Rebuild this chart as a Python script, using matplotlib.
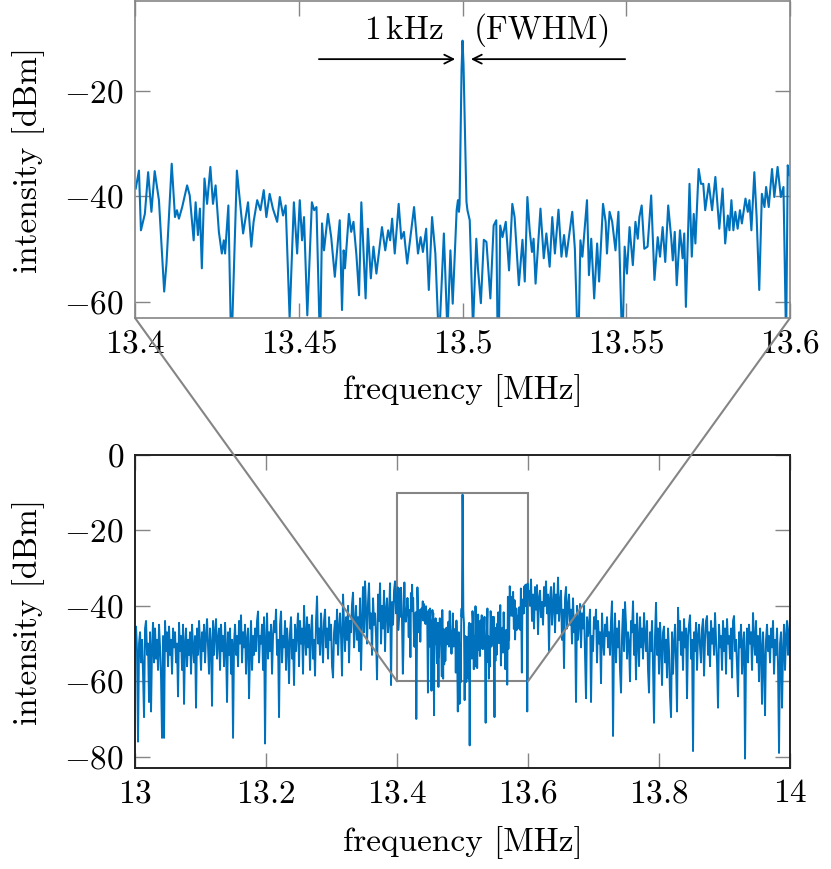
import numpy as np
import matplotlib
matplotlib.use('Agg')
import matplotlib.pyplot as plt
from matplotlib.patches import Rectangle, ConnectionPatch
from matplotlib.ticker import FuncFormatter

plt.rcParams['font.family'] = 'serif'
plt.rcParams['font.serif'] = ['cmr10']
plt.rcParams['mathtext.fontset'] = 'cm'
plt.rcParams['axes.formatter.use_mathtext'] = True

# DANE - widmo w okolicy 13.5 MHz
zoom_freq = [
    13.4002, 13.4012, 13.4018, 13.4030, 13.4040, 13.4050, 13.4060, 13.4073, 13.4089, 13.4096,
    13.4112, 13.4122, 13.4128, 13.4134, 13.4144, 13.4159, 13.4167, 13.4179, 13.4185, 13.4192,
    13.4198, 13.4204, 13.4212, 13.4220, 13.4230, 13.4238, 13.4246, 13.4256, 13.4265, 13.4271,
    13.4275, 13.4285, 13.4294, 13.4311, 13.4330, 13.4345, 13.4355, 13.4362, 13.4373, 13.4383,
    13.4393, 13.4401, 13.4411, 13.4421, 13.4434, 13.4442, 13.4452, 13.4460, 13.4472, 13.4485,
    13.4495, 13.4503, 13.4510, 13.4516, 13.4526, 13.4540, 13.4547, 13.4554, 13.4565, 13.4571,
    13.4577, 13.4589, 13.4599, 13.4610, 13.4625, 13.4632, 13.4637, 13.4641, 13.4653, 13.4660,
    13.4667, 13.4676, 13.4684, 13.4691, 13.4704, 13.4711, 13.4720, 13.4728, 13.4737, 13.4754,
    13.4764, 13.4773, 13.4779, 13.4785, 13.4793, 13.4805, 13.4813, 13.4821, 13.4831, 13.4852,
    13.4864, 13.4872, 13.4879, 13.4889, 13.4897, 13.4907, 13.4917, 13.4928, 13.4943, 13.4954,
    13.4963, 13.4970, 13.4982, 13.4986, 13.4989, 13.4991, 13.4994, 13.4997, 13.5000, 13.5003,
    13.5006, 13.5009, 13.5012, 13.5015, 13.5022, 13.5032, 13.5042, 13.5047, 13.5056, 13.5065,
    13.5073, 13.5085, 13.5095, 13.5103, 13.5109, 13.5115, 13.5122, 13.5132, 13.5142, 13.5152,
    13.5159, 13.5172, 13.5183, 13.5190, 13.5198, 13.5205, 13.5212, 13.5217, 13.5223, 13.5238,
    13.5248, 13.5256, 13.5266, 13.5274, 13.5282, 13.5293, 13.5302, 13.5310, 13.5317, 13.5335,
    13.5343, 13.5353, 13.5360, 13.5366, 13.5380, 13.5386, 13.5393, 13.5402, 13.5411, 13.5417,
    13.5429, 13.5437, 13.5441, 13.5449, 13.5457, 13.5467, 13.5476, 13.5488, 13.5495, 13.5502,
    13.5510, 13.5520, 13.5528, 13.5535, 13.5540, 13.5547, 13.5555, 13.5565, 13.5576, 13.5586,
    13.5596, 13.5603, 13.5611, 13.5619, 13.5628, 13.5637, 13.5642, 13.5648, 13.5654, 13.5664,
    13.5672, 13.5677, 13.5682, 13.5693, 13.5700, 13.5706, 13.5711, 13.5721, 13.5728, 13.5735,
    13.5741, 13.5752, 13.5762, 13.5772, 13.5784, 13.5794, 13.5802, 13.5810, 13.5815, 13.5821,
    13.5827, 13.5833, 13.5840, 13.5847, 13.5853, 13.5864, 13.5871, 13.5876, 13.5882, 13.5891,
    13.5898, 13.5906, 13.5914, 13.5922, 13.5927, 13.5935, 13.5945, 13.5952, 13.5962, 13.5972,
    13.5980, 13.5988, 13.5993, 13.5998, 13.6003,
]
zoom_level = [
    -38.5, -35.1, -46.4, -43.3, -35.4, -42.9, -35.2, -40.7, -58.0, -52.7,
    -33.8, -43.9, -42.6, -44.2, -42.0, -37.9, -39.8, -48.3, -41.1, -47.3,
    -42.3, -53.6, -36.6, -41.4, -34.4, -41.4, -37.9, -46.7, -50.8, -48.3,
    -50.8, -41.7, -70.0, -35.1, -47.0, -41.1, -49.5, -44.8, -40.7, -42.6,
    -38.8, -43.9, -39.5, -42.3, -44.8, -40.1, -43.6, -41.7, -63.0, -41.1,
    -50.8, -40.7, -48.3, -43.9, -62.5, -41.1, -42.6, -42.0, -69.0, -45.1,
    -50.2, -43.3, -47.7, -55.2, -44.5, -61.5, -50.2, -53.6, -43.3, -46.7,
    -44.8, -51.1, -58.7, -41.1, -59.3, -46.1, -55.5, -49.5, -54.6, -45.8,
    -50.2, -46.4, -48.3, -44.2, -50.8, -41.4, -48.0, -46.7, -52.7, -42.0,
    -50.8, -47.7, -50.5, -46.1, -57.7, -43.9, -50.8, -68.0, -47.0, -66.0,
    -50.2, -60.3, -42.6, -40.7, -42.9, -41.5, -29.0, -16.0, -10.5, -15.0,
    -24.0, -34.0, -41.0, -42.6, -44.5, -65.0, -48.0, -53.6, -60.2, -48.2,
    -48.6, -59.3, -45.5, -44.5, -77.0, -45.5, -47.7, -44.8, -54.0, -41.4,
    -43.9, -56.8, -48.2, -56.1, -40.1, -46.4, -50.5, -48.0, -56.5, -42.3,
    -51.7, -47.0, -53.3, -43.9, -50.8, -42.5, -51.4, -47.3, -51.4, -42.9,
    -49.9, -71.0, -48.3, -51.4, -40.7, -54.9, -48.0, -59.3, -48.9, -56.1,
    -41.4, -44.8, -50.8, -42.9, -44.8, -50.2, -42.9, -69.5, -49.5, -54.6,
    -45.8, -53.0, -44.8, -48.0, -43.9, -41.7, -49.9, -49.5, -39.8, -55.8,
    -47.7, -51.4, -45.8, -52.4, -41.7, -47.7, -52.1, -46.7, -56.8, -46.4,
    -51.7, -47.0, -60.9, -37.6, -51.4, -43.3, -48.9, -34.8, -37.6, -37.6,
    -42.6, -37.6, -42.6, -36.3, -46.1, -38.5, -48.9, -43.6, -46.4, -40.7,
    -46.4, -42.9, -46.1, -42.6, -45.1, -40.4, -42.9, -40.7, -46.4, -35.4,
    -43.9, -57.7, -39.5, -42.0, -38.2, -42.0, -34.8, -40.1, -34.4, -40.1,
    -38.2, -68.0, -34.1, -36.0, -36.0,
]

# 13.0 - 13.4 MHz
left_level = [
    -48, -45.5, -52, -76, -50, -47, -55, -49, -58, -69.5, -46, -44, -53, -50, -65.5, -47, -68, -51, -44.5, -55,
    -46, -54, -49, -57, -45, -51, -59, -75, -48, -75, -44, -52, -47, -56, -45.5, -53, -49, -58, -46, -51,
    -47, -55, -50, -64, -44.5, -52, -48, -57, -45, -66, -50, -46, -56, -49, -53, -47, -58, -45, -51, -55,
    -48, -67, -46, -53, -44, -50, -57, -47, -52, -45, -55, -48, -43.5, -51, -58, -46, -50, -66.5, -44, -53,
    -47, -43.5, -54, -49, -46, -57, -45, -52, -48, -56, -44.5, -51, -65.5, -47, -53, -46, -58, -49, -75, -50,
    -45, -53, -48, -56, -44, -50, -42.5, -55, -47, -51, -45, -58, -49, -46, -64.5, -52, -44, -57, -48, -53,
    -46, -52, -44, -41.5, -55, -48, -50, -45, -57, -43, -76.5, -49, -42, -54, -47, -52, -45, -58, -48, -44,
    -47, -41, -53, -49, -69.5, -45, -41.5, -55, -48, -51, -44, -57, -46, -50, -60.5, -47, -43, -54, -49, -61,
    -45, -52, -47, -42, -56, -44, -50, -46, -58, -40, -48, -53, -43, -51, -45, -57, -47, -42.5, -54, -49,
    -58.5, -44, -37.5, -50, -46, -53, -42, -48, -55, -44, -41, -51, -46, -54, -43, -49, -45, -56, -59, -47,
    -44, -50, -41, -53, -46, -42, -48, -58.5, -37, -45, -52, -43, -49, -40, -55, -44, -47, -39.5, -36.5, -51,
    -45, -40, -49, -43, -52, -38, -57, -44, -35, -47, -33.5, -41, -50, -39, -34, -46, -42, -53, -38, -45,
    -42, -48, -59.5, -37, -44, -34, -50, -40, -46, -36, -52, -41, -38, -47, -43, -34, -61, -39, -45, -36, -33.5, -42,
]

# 13.6 - 14.0 MHz
right_level = [
    -36, -40, -33, -44, -37, -46, -35, -41, -34.5, -47.5, -38, -36, -43, -39, -45, -35, -40, -33.5, -42, -37,
    -52, -38, -35, -45, -40, -34, -47, -37, -42, -32.5, -44, -39, -36, -49, -41, -56.5, -38, -35, -46, -40,
    -37, -45, -41, -50, -38, -47, -43, -65.5, -40, -49, -44, -39.5, -51, -42, -46, -40, -53, -64.5, -43, -48,
    -45, -41, -65.5, -48, -52, -43, -46, -41, -55, -44, -50, -47, -60.5, -42, -49, -53, -45, -48, -43, -51,
    -47, -53, -44, -38.8, -74.5, -49, -42, -55, -46, -51, -44, -57, -63, -48, -41, -52, -39, -45, -54, -47,
    -50, -60, -44, -47, -38.8, -53, -45, -59.5, -42, -49, -56, -43, -51, -46, -54, -41.9, -48, -52, -44, -57,
    -63, -47, -52, -44, -56, -71, -48, -39.2, -53, -46, -58, -44.5, -50, -61, -47, -45.5, -55, -49, -59, -46,
    -52, -64, -69.5, -47, -58, -50, -45, -55, -68, -40.5, -49, -44, -53, -47, -57, -43.5, -51, -46, -64.5, -48,
    -45, -42.5, -54, -49, -78.5, -47, -52, -44.5, -57, -48, -45, -51, -55, -46, -43.5, -58.5, -49, -44, -42.7, -53,
    -47, -56, -44, -50, -46, -53, -41.9, -49, -55, -67, -45, -51, -48, -57, -44, -52, -46, -58, -43.5, -50,
    -48, -54, -46, -59, -44, -42.7, -52, -49, -56, -64, -47, -51, -45, -58, -50, -47, -80.5, -53, -46, -55,
    -45, -50, -47, -57, -41.9, -49, -53, -44, -55, -48, -60, -46, -51, -66, -47, -54, -69, -49, -45, -52,
    -48, -55, -46, -51, -44, -58, -49, -53, -46, -56, -79, -50, -47, -67, -52, -45, -57, -48, -44, -53, -47, -43.6,
]

left_freq = np.linspace(13.0, 13.4, len(left_level), endpoint=False)
right_freq = np.linspace(13.6015, 14.0, len(right_level))

full_freq = np.concatenate([left_freq, zoom_freq, right_freq])
full_level = np.concatenate([left_level, zoom_level, right_level])

blue = '#0072bd'
grey = '#858585'
fs = 24
fmt = FuncFormatter(lambda v, p: f'${v:g}$')

fig = plt.figure(figsize=(8.31, 8.69), dpi=100)
ax_top = fig.add_axes([0.1625, 0.6341, 0.7882, 0.3647])
ax_bot = fig.add_axes([0.1625, 0.1162, 0.7882, 0.3602])

# 1. Zbliżenie
ax_top.plot(zoom_freq, zoom_level, color=blue, linewidth=1.5, solid_joinstyle='round')
ax_top.set_xlim(13.4, 13.6)
ax_top.set_ylim(-63, -3)
ax_top.set_xticks([13.4, 13.45, 13.5, 13.55, 13.6])
ax_top.set_yticks([-20, -40, -60])
for s in ax_top.spines.values():
    s.set_color(grey)
    s.set_linewidth(1.2)

arrow = dict(arrowstyle='->', color='black', lw=1.3, mutation_scale=16)
ax_top.annotate('', xy=(13.4986, -14), xytext=(13.4553, -14), arrowprops=arrow)
ax_top.annotate('', xy=(13.5017, -14), xytext=(13.5505, -14), arrowprops=arrow)
ax_top.text(13.4942, -8.5, r'1$\,$kHz', ha='right', va='center', fontsize=fs)
ax_top.text(13.5035, -8.5, '(FWHM)', ha='left', va='center', fontsize=fs)

# 2. Całe widmo
ax_bot.plot(full_freq, full_level, color=blue, linewidth=1.4)
ax_bot.set_xlim(13.0, 14.0)
ax_bot.set_ylim(-83, 0)
ax_bot.set_xticks([13, 13.2, 13.4, 13.6, 13.8, 14])
ax_bot.set_yticks([0, -20, -40, -60, -80])
for s in ax_bot.spines.values():
    s.set_color('#222222')
    s.set_linewidth(1.4)

ax_bot.add_patch(Rectangle((13.4, -60), 0.2, 50, fill=False, edgecolor=grey, linewidth=1.5, zorder=1))

for ax in (ax_top, ax_bot):
    ax.xaxis.set_major_formatter(fmt)
    ax.yaxis.set_major_formatter(fmt)
    ax.tick_params(direction='in', length=11, width=1.0, color=grey, labelsize=fs,
                   top=True, right=True, pad=8)
    ax.set_xlabel('frequency [MHz]', fontsize=fs)
    ax.set_ylabel('intensity [dBm]', fontsize=fs)
    ax.yaxis.set_label_coords(-0.137, 0.5)
ax_top.xaxis.set_label_coords(0.5, -0.178)
ax_bot.xaxis.set_label_coords(0.5, -0.186)

# 3. Linie łączące
for x0, xa in ((13.4, 0), (13.6, 1)):
    con = ConnectionPatch(xyA=(x0, -60), coordsA=ax_bot.transData,
                          xyB=(xa, 0), coordsB=ax_top.transAxes,
                          color=grey, linewidth=1.5)
    fig.add_artist(con)

fig.savefig('out.png', dpi=100)
